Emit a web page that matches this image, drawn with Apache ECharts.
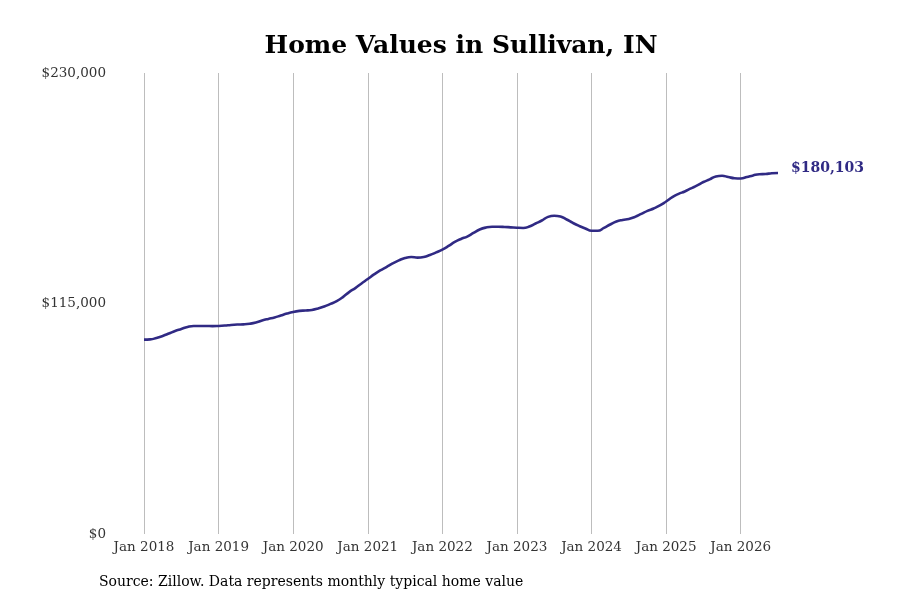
<!DOCTYPE html>
<html>
<head>
<meta charset="utf-8">
<script src="https://cdn.jsdelivr.net/npm/echarts@6/dist/echarts.min.js"></script>
<style>
	html, body { margin: 0; padding: 0; background: #fff; }
	#chart { width: 900px; height: 600px; }
</style>
</head>
<body>
<div id="chart"></div>
<script>
	// monthly typical home value, Jan 2018 .. Jul 2026
	var startYear = 2018;
	var homeValues = [
		97000, 97100, 97800, 98800, 100000, 101300, 102300, 103300, 103800, 103800, 103800, 103700,
		103800, 104000, 104300, 104500, 104600, 104900, 105500, 106500, 107300, 108000, 109000, 110000,
		110800, 111300, 111500, 111800, 112500, 113500, 114800, 116200, 118200, 120700, 122700, 125000,
		127200, 129500, 131500, 133200, 135000, 136500, 137700, 138200, 137900, 138200, 139200, 140500,
		141900, 143700, 145700, 147200, 148400, 150200, 151900, 152900, 153300, 153300, 153200, 153000,
		152800, 152700, 153400, 154900, 156400, 158200, 158800, 158400, 156900, 155200, 153700, 152400,
		151300, 151300, 152700, 154400, 155900, 156700, 157200, 158200, 159700, 161200, 162400, 163900,
		165900, 168100, 169700, 170900, 172400, 173900, 175600, 176900, 178400, 178700, 178100, 177500,
		177400, 178100, 178900, 179500, 179600, 180000, 180103
	];
	var yTicks = [0, 115000, 230000];
	var monthNames = ['Jan','Feb','Mar','Apr','May','Jun','Jul','Aug','Sep','Oct','Nov','Dec'];

	var months = [];
	for (var i = 0; i < homeValues.length; i++) {
		months.push(monthNames[i % 12] + ' ' + (startYear + Math.floor(i / 12)));
	}

	var lineColor = '#302a84';
	var serif = 'DejaVu Serif';

	var chart = echarts.init(document.getElementById('chart'));
	var option = {
		animation: false,
		title: {
			text: 'Home Values in Sullivan, IN',
			left: 456,
			top: 29,
			textAlign: 'center',
			textStyle: { fontFamily: serif, fontWeight: 'bold', fontSize: 25, color: '#000' }
		},
		grid: { left: 144, right: 122, top: 73, bottom: 66 },
		xAxis: {
			type: 'category',
			boundaryGap: false,
			data: months,
			axisLine: { show: false },
			axisTick: { show: false },
			axisLabel: {
				interval: function (idx) { return idx % 12 === 0; },
				fontFamily: serif, fontSize: 13.5, color: '#333', margin: 6
			},
			splitLine: {
				show: true,
				interval: function (idx) { return idx % 12 === 0; },
				lineStyle: { color: '#bdbdbd', width: 1 }
			}
		},
		yAxis: {
			type: 'value',
			min: yTicks[0],
			max: yTicks[yTicks.length - 1],
			interval: yTicks[1] - yTicks[0],
			axisLine: { show: false },
			axisTick: { show: false },
			splitLine: { show: false },
			axisLabel: {
				margin: 38,
				fontFamily: serif, fontSize: 13.5, color: '#333',
				formatter: function (v) { return '$' + v.toLocaleString('en-US'); }
			}
		},
		series: [{
			type: 'line',
			data: homeValues,
			smooth: true,
			symbol: 'none',
			lineStyle: { color: lineColor, width: 2.6 },
			endLabel: {
				show: true,
				distance: 13,
				offset: [0, -5],
				fontFamily: serif, fontWeight: 'bold', fontSize: 14, color: lineColor,
				formatter: function (p) { return '$' + p.value.toLocaleString('en-US'); }
			}
		}],
		graphic: [{
			type: 'text',
			left: 99,
			top: 575,
			style: {
				text: 'Source: Zillow. Data represents monthly typical home value',
				font: '14px "DejaVu Serif"',
				fill: '#000'
			}
		}]
	};
	chart.setOption(option);
</script>
</body>
</html>
